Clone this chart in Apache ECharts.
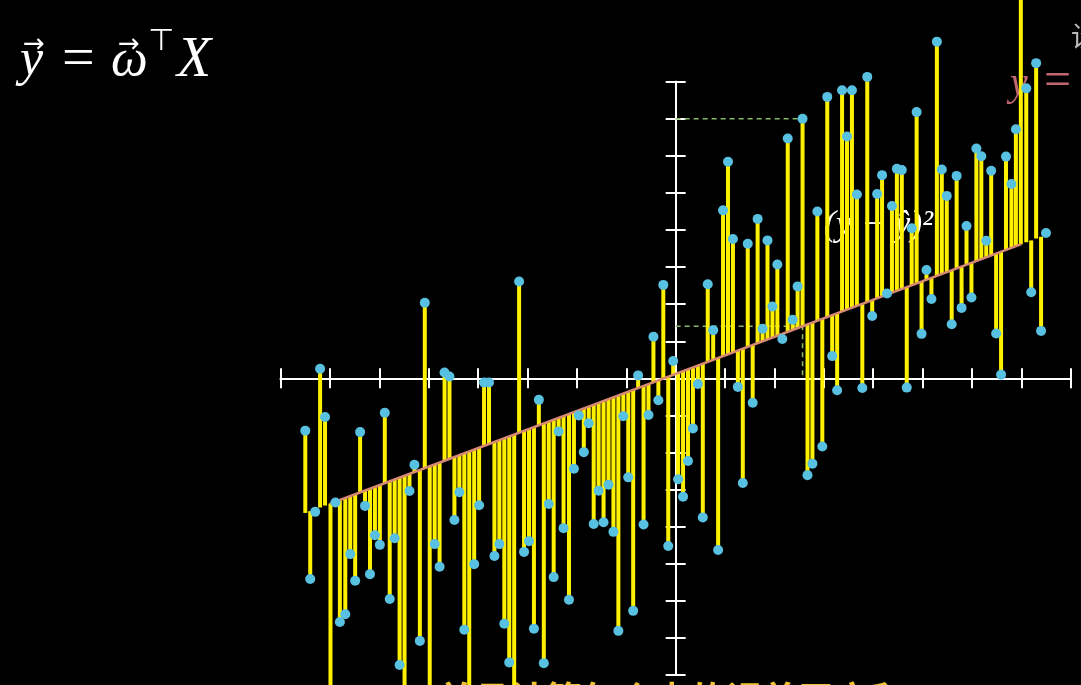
<!DOCTYPE html>
<html>
<head>
<meta charset="utf-8">
<script src="https://cdn.jsdelivr.net/npm/echarts@6/dist/echarts.min.js"></script>
<style>
  html, body { margin: 0; padding: 0; background: #000; }
  #main { width: 1081px; height: 685px; }
</style>
</head>
<body>
<div id="main"></div>
<script>
// sample x positions (evenly spread between -7.5 and 7.5)
const xValues = [
  -7.50, -7.40, -7.30, -7.20, -7.10, -6.99, -6.89, -6.80, -6.69, -6.59,
  -6.49, -6.39, -6.29, -6.19, -6.09, -5.99, -5.89, -5.79, -5.69, -5.59,
  -5.49, -5.39, -5.29, -5.18, -5.08, -4.98, -4.88, -4.78, -4.68, -4.58,
  -4.48, -4.38, -4.28, -4.18, -4.08, -3.98, -3.88, -3.78, -3.67, -3.57,
  -3.47, -3.37, -3.27, -3.17, -3.07, -2.97, -2.87, -2.77, -2.67, -2.57,
  -2.47, -2.37, -2.27, -2.16, -2.06, -1.96, -1.86, -1.76, -1.66, -1.56,
  -1.46, -1.36, -1.26, -1.16, -1.06, -0.96, -0.86, -0.76, -0.65, -0.55,
  -0.45, -0.35, -0.25, -0.15, -0.05, 0.05, 0.15, 0.25, 0.35, 0.45,
  0.55, 0.65, 0.76, 0.86, 0.96, 1.06, 1.16, 1.26, 1.36, 1.46,
  1.56, 1.66, 1.76, 1.86, 1.96, 2.06, 2.16, 2.27, 2.37, 2.47,
  2.57, 2.67, 2.77, 2.87, 2.97, 3.07, 3.17, 3.27, 3.37, 3.47,
  3.57, 3.67, 3.78, 3.88, 3.98, 4.08, 4.18, 4.28, 4.38, 4.48,
  4.58, 4.68, 4.78, 4.88, 4.98, 5.08, 5.18, 5.29, 5.39, 5.49,
  5.59, 5.69, 5.79, 5.89, 5.99, 6.09, 6.19, 6.29, 6.39, 6.49,
  6.59, 6.69, 6.80, 6.89, 6.99, 7.10, 7.20, 7.30, 7.40, 7.50
];

const yValues = [
  -1.41, -5.41, -3.60, 0.26, -1.04, -8.8, -3.35, -6.57, -6.36, -4.74,
  -5.46, -1.45, -3.44, -5.28, -4.23, -4.49, -0.93, -5.95, -4.31, -7.73,
  -8.6, -3.04, -2.33, -7.08, 2.04, -8.9, -4.47, -5.08, 0.16, 0.05,
  -3.82, -3.07, -6.78, -8.7, -5.01, -3.42, -0.11, -0.11, -4.79, -4.47,
  -6.62, -7.66, -8.8, 2.61, -4.68, -4.39, -6.75, -0.58, -7.68, -3.39,
  -5.36, -1.43, -4.04, -5.97, -2.44, -1.00, -1.99, -1.21, -3.93, -3.03,
  -3.88, -2.87, -4.14, -6.81, -1.02, -2.67, -6.27, 0.08, -3.94, -0.99,
  1.12, -0.59, 2.52, -4.52, 0.47, -2.72, -3.19, -2.23, -1.35, -0.15,
  -3.75, 2.54, 1.30, -4.63, 4.53, 5.84, 3.76, -0.23, -2.82, 3.63,
  -0.66, 4.30, 1.34, 3.72, 1.94, 3.07, 1.06, 6.47, 1.58, 2.48,
  7.00, -2.61, -2.30, 4.50, -1.84, 7.59, 0.60, -0.32, 7.77, 6.52,
  7.77, 4.96, -0.26, 8.13, 1.68, 4.97, 5.48, 2.29, 4.65, 5.65,
  5.62, -0.25, 4.05, 7.18, 1.20, 2.92, 2.14, 9.08, 5.63, 4.92,
  1.46, 5.46, 1.90, 4.11, 2.18, 6.20, 5.99, 3.71, 5.60, 1.21,
  0.10, 5.98, 5.24, 6.72, 10.6, 7.82, 2.32, 8.50, 1.28, 3.92
];

// fitted line y = slope * x + intercept
const slope = 0.5;
const intercept = 0.12;
const lineRange = [-7, 7];

// the point marked with dashed guides
const highlightIndex = 100;

const fit = x => slope * x + intercept;

const points = xValues.map((x, i) => [x, yValues[i]]);
const hx = xValues[highlightIndex];
const hy = yValues[highlightIndex];

const chart = echarts.init(document.getElementById('main'));

const axisBase = {
  type: 'value',
  min: -8,
  max: 8,
  interval: 1,
  axisLine: { onZero: true, lineStyle: { color: '#ffffff', width: 2 } },
  axisLabel: { show: false },
  splitLine: { show: false }
};

const tick = inside => ({ length: 10, inside: inside, lineStyle: { color: '#fff', width: 2 } });

const option = {
  backgroundColor: '#000',
  animation: false,
  grid: { left: 280.6, right: 10.3, top: 81.7, bottom: 10, containLabel: false, outerBoundsMode: 'none' },
  xAxis: [
    Object.assign({}, axisBase, { position: 'bottom', axisTick: tick(false) }),
    Object.assign({}, axisBase, { position: 'bottom', axisTick: tick(true) })
  ],
  yAxis: [
    Object.assign({}, axisBase, { position: 'left', axisTick: tick(false) }),
    Object.assign({}, axisBase, { position: 'left', axisTick: tick(true) })
  ],
  graphic: [
    { type: 'text', x: 20, y: 61, z: 0, style: { text: 'y', font: 'italic 52px "Liberation Serif"', fill: '#fff', verticalAlign: 'middle' } },
    { type: 'text', x: 23, y: 45, z: 0, style: { text: '→', font: '26px "DejaVu Sans"', fill: '#fff', verticalAlign: 'middle' } },
    { type: 'text', x: 62, y: 61, z: 0, style: { text: '=', font: '58px "Liberation Serif"', fill: '#fff', verticalAlign: 'middle' } },
    { type: 'text', x: 111, y: 61, z: 0, style: { text: 'ω', font: 'italic 52px "Liberation Serif"', fill: '#fff', verticalAlign: 'middle' } },
    { type: 'text', x: 118, y: 45, z: 0, style: { text: '→', font: '26px "DejaVu Sans"', fill: '#fff', verticalAlign: 'middle' } },
    { type: 'text', x: 148, y: 42, z: 0, style: { text: '⊤', font: '30px "DejaVu Sans"', fill: '#fff', verticalAlign: 'middle' } },
    { type: 'text', x: 177, y: 61, z: 0, style: { text: 'X', font: 'italic 56px "Liberation Serif"', fill: '#fff', verticalAlign: 'middle' } },
    { type: 'text', x: 824, y: 226, z: 0, style: { text: '(y − ŷ)²', font: 'italic 36px "Liberation Serif"', fill: '#fff', verticalAlign: 'middle' } },
    { type: 'text', x: 1010, y: 84, z: 0, style: { text: 'y', font: 'italic 40px "Liberation Serif"', fill: '#c0666e', verticalAlign: 'middle' } },
    { type: 'text', x: 1044, y: 82, z: 0, style: { text: '=', font: '48px "Liberation Serif"', fill: '#c0666e', verticalAlign: 'middle' } },
    { type: 'text', x: 1071, y: 36, z: 0, style: { text: '设', font: '28px "Noto Sans CJK SC"', fill: '#bbbbbb', verticalAlign: 'middle' } },
    { type: 'text', x: 672, y: 681, z: 0, style: { text: '并且计算每个点的误差平方和', font: 'bold 36px "Noto Sans CJK SC"', fill: '#f2c230', align: 'center', verticalAlign: 'top' } }
  ],
  series: [
    {
      name: 'guides',
      type: 'line',
      z: 1,
      symbol: 'none',
      silent: true,
      lineStyle: { color: '#86b866', width: 1.6, type: [5, 4] },
      data: [[0, hy], [hx, hy]]
    },
    {
      name: 'guides2',
      type: 'line',
      z: 1,
      symbol: 'none',
      silent: true,
      lineStyle: { color: '#86b866', width: 1.6, type: [5, 4] },
      data: [[0, fit(hx)], [hx, fit(hx)], [hx, 0]]
    },
    {
      name: 'residuals',
      type: 'custom',
      z: 2,
      clip: false,
      data: points,
      renderItem: function (params, api) {
        const x = api.value(0);
        const y = api.value(1);
        const a = api.coord([x, fit(x)]);
        const b = api.coord([x, y]);
        return {
          type: 'line',
          shape: { x1: a[0], y1: a[1], x2: b[0], y2: b[1] },
          style: { stroke: '#fff000', lineWidth: 4 }
        };
      }
    },
    {
      name: 'fit',
      type: 'line',
      z: 3,
      symbol: 'none',
      lineStyle: { color: '#d98a72', width: 2.6 },
      data: lineRange.map(x => [x, fit(x)])
    },
    {
      name: 'points',
      type: 'scatter',
      z: 4,
      clip: false,
      symbolSize: 10,
      itemStyle: { color: '#58c0e0', opacity: 1 },
      data: points
    }
  ]
};

chart.setOption(option);
</script>
</body>
</html>
